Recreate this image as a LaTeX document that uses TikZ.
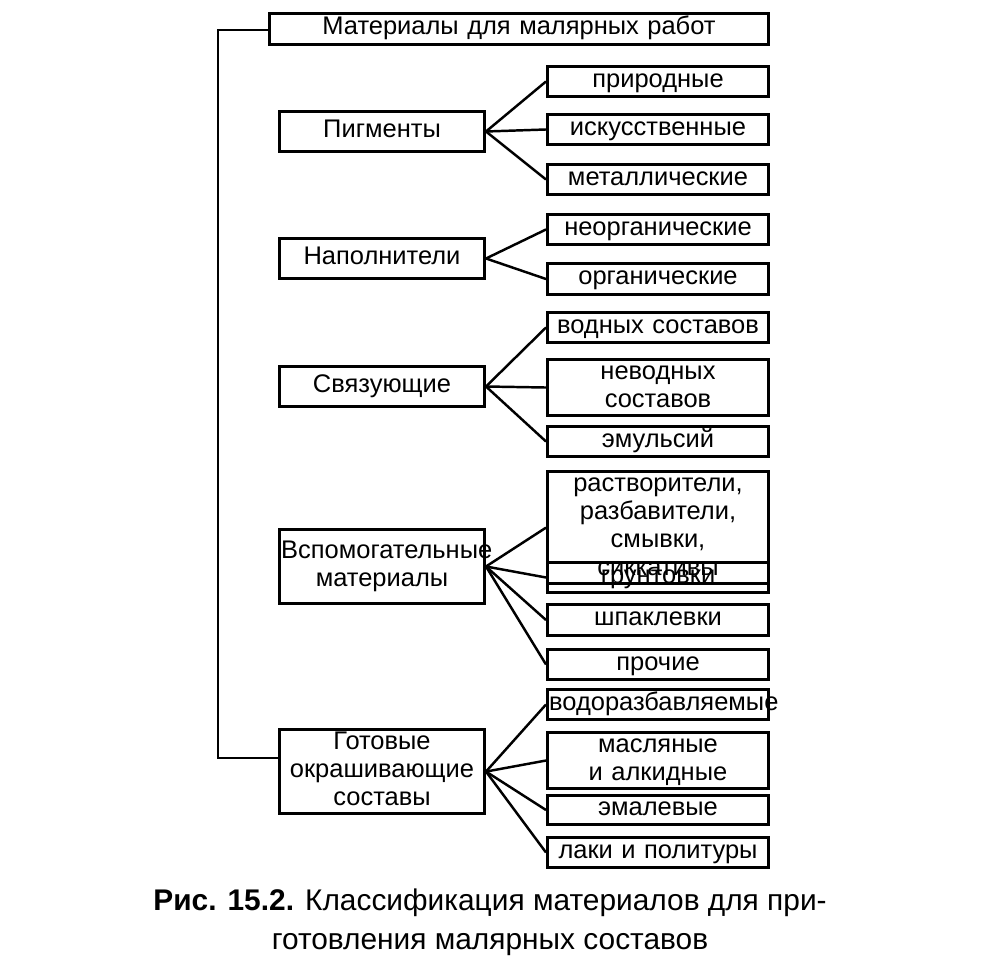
\documentclass[tikz,border=0pt]{standalone}
\usepackage{fontspec}
\setmainfont{Liberation Sans}
\begin{document}
\begin{tikzpicture}[x=0.02cm,y=-0.02cm,
  bx/.style={draw,line width=1.6pt,align=center,inner xsep=1pt,inner ysep=0pt,font=\fontsize{14.5}{16}\selectfont},
  ln/.style={line width=1.4pt}]
\useasboundingbox (0,0) rectangle (996,962);
\newcommand{\bxat}[6]{\node[bx,text width=#3*0.02cm-3.6pt,minimum height=#4*0.02cm-1.6pt,anchor=north west] (#5) at (#1,#2) {\strut #6\strut};}
\bxat{268}{12}{502}{34}{t}{Материалы для малярных работ}
\bxat{278}{110}{208}{43}{p}{Пигменты}
\bxat{278}{237}{208}{43}{n}{Наполнители}
\bxat{278}{365}{208}{43}{s}{Связующие}
\bxat{278}{528}{208}{77}{v}{Вспомогательные\\материалы}
\bxat{278}{728}{208}{82}{g}{Готовые\\окрашивающие\\составы}
\bxat{546}{65}{224}{33}{p1}{природные}
\bxat{546}{113}{224}{33}{p2}{искусственные}
\bxat{546}{163}{224}{33}{p3}{металлические}
\bxat{546}{213}{224}{33}{n1}{неорганические}
\bxat{546}{262}{224}{34}{n2}{органические}
\bxat{546}{311}{224}{33}{s1}{водных составов}
\bxat{546}{358}{224}{54}{s2}{неводных\\составов}
\bxat{546}{425}{224}{33}{s3}{эмульсий}
\bxat{546}{470}{224}{80}{v1}{растворители,\\разбавители,\\смывки, сиккативы}
\bxat{546}{561}{224}{33}{v2}{грунтовки}
\bxat{546}{603}{224}{34}{v3}{шпаклевки}
\bxat{546}{648}{224}{33}{v4}{прочие}
\bxat{546}{688}{224}{33}{g1}{водоразбавляемые}
\bxat{546}{731}{224}{54}{g2}{масляные\\и алкидные}
\bxat{546}{794}{224}{32}{g3}{эмалевые}
\bxat{546}{836}{224}{33}{g4}{лаки и политуры}
\coordinate (lt) at (218,30);
\coordinate (lb) at (218,758);
\draw[ln] (t.west |- lt) -- (lt) -- (lb) -- (g.west |- lb);
\foreach \a/\b in {p/p1,p/p2,p/p3,n/n1,n/n2,s/s1,s/s2,s/s3,v/v1,v/v2,v/v3,v/v4,g/g1,g/g2,g/g3,g/g4}
  \draw[ln] (\a.east) -- (\b.west);
\node[font=\fontsize{17}{22}\selectfont,align=center] (cap) at (490,922)
 {\textbf{Рис. 15.2.} Классификация материалов для при-\\готовления малярных составов};
\end{tikzpicture}
\end{document}
